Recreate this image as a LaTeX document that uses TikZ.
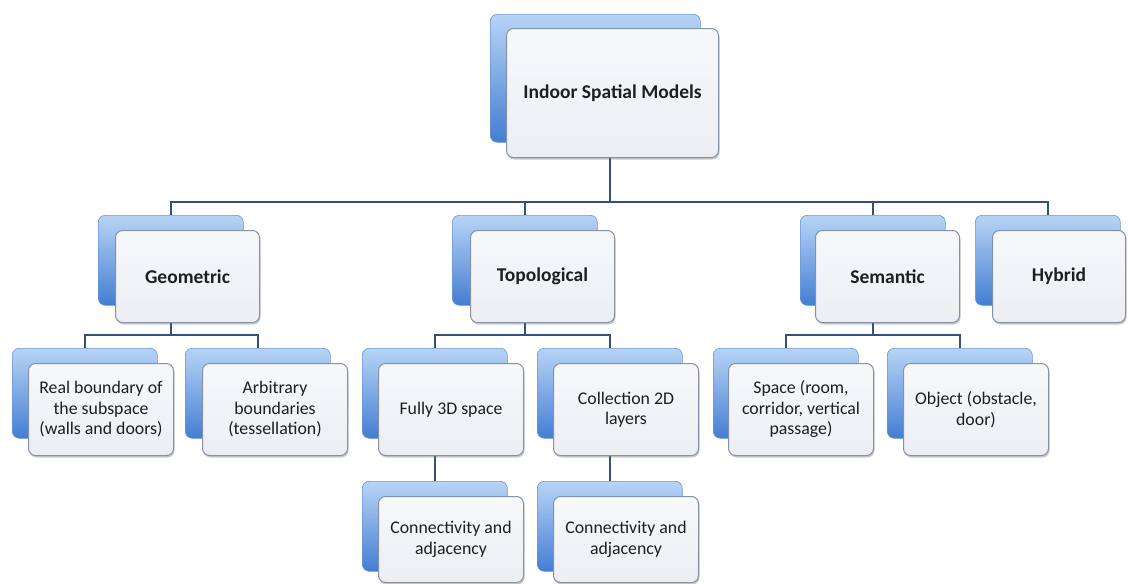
\documentclass[tikz,border=0pt]{standalone}
\usepackage{fontspec}
\setmainfont{Carlito}
\usetikzlibrary{shadows,calc}
\definecolor{bluetop}{HTML}{B8D4F6}
\definecolor{bluebot}{HTML}{437DD3}
\definecolor{blueedge}{HTML}{6A97D8}
\definecolor{frontfill}{HTML}{ECEEF3}
\definecolor{frontedge}{HTML}{8592A6}
\definecolor{conncol}{HTML}{34507C}
\definecolor{textcol}{HTML}{1E1E1E}
\begin{document}
\begin{tikzpicture}[x=1pt,y=-1pt,
  backbox/.style={rounded corners=7pt, top color=bluetop, bottom color=bluebot, draw=blueedge, line width=0.6pt, anchor=north west, inner sep=0pt},
  frontbox/.style={rounded corners=7pt, top color=white!60!frontfill, bottom color=frontfill, draw=frontedge, line width=1pt, anchor=north west, inner sep=0pt, align=center, text=textcol,
    drop shadow={shadow xshift=1pt, shadow yshift=-2pt, opacity=0.35, fill=black!60}},
  boldtxt/.style={font=\fontsize{19.5}{23}\selectfont\bfseries},
  normtxt/.style={font=\fontsize{17.8}{20.5}\selectfont},
  lvlA/.style={minimum width=145pt, minimum height=90pt},
  lvlAf/.style={minimum width=144pt, minimum height=92pt},
  lvlB/.style={minimum width=145pt, minimum height=90pt},
  lvlBf/.style={minimum width=145pt, minimum height=92pt},
  conn/.style={draw=conncol, line width=2pt}]
\fill[white] (0,0) rectangle (1128,584);
\useasboundingbox (0,0) rectangle (1128,584);

% ---------- back boxes ----------
\node[backbox, minimum width=210pt, minimum height=128pt] (topb) at (490,14) {};
\node[backbox, lvlA] (gb) at (98,215) {};
\node[backbox, lvlA] (tb) at (452,215) {};
\node[backbox, lvlA] (sb) at (800,215) {};
\node[backbox, lvlA] (hb) at (975,215) {};
\node[backbox, lvlB] (c1b) at (12,348) {};
\node[backbox, lvlB] (c2b) at (185,348) {};
\node[backbox, lvlB] (c3b) at (362,348) {};
\node[backbox, lvlB] (c4b) at (537,348) {};
\node[backbox, lvlB] (c7b) at (713,348) {};
\node[backbox, lvlB] (c8b) at (887,348) {};
\node[backbox, lvlB] (c5b) at (362,481) {};
\node[backbox, lvlB] (c6b) at (537,481) {};

% ---------- connectors ----------
\coordinate (bar1) at (0,202);
\coordinate (bar2) at (0,335);
\coordinate (topc) at (610,140);
\draw[conn] (topc) -- (topc |- bar1);
\draw[conn] (topc |- bar1) -| (gb.north);
\draw[conn] (topc |- bar1) -| (tb.north);
\draw[conn] (topc |- bar1) -| (sb.north);
\draw[conn] (topc |- bar1) -| (hb.north);
\draw[conn] (gb.center) -- (gb.center |- bar2);
\draw[conn] (gb.center |- bar2) -| (c1b.north);
\draw[conn] (gb.center |- bar2) -| (c2b.north);
\draw[conn] (tb.center) -- (tb.center |- bar2);
\draw[conn] (tb.center |- bar2) -| (c3b.north);
\draw[conn] (tb.center |- bar2) -| (c4b.north);
\draw[conn] (sb.center) -- (sb.center |- bar2);
\draw[conn] (sb.center |- bar2) -| (c7b.north);
\draw[conn] (sb.center |- bar2) -| (c8b.north);
\draw[conn] (c3b.center) -- (c5b.north);
\draw[conn] (c4b.center) -- (c6b.north);

% ---------- front boxes ----------
\node[frontbox, boldtxt, minimum width=212pt, minimum height=129pt] (topf) at (506,28) {Indoor Spatial Models};
\node[frontbox, boldtxt, lvlAf] (gf) at (115,230) {Geometric};
\node[frontbox, boldtxt, lvlAf] (tf) at (470,230) {Topological};
\node[frontbox, boldtxt, lvlAf] (sf) at (815,230) {Semantic};
\node[frontbox, boldtxt, minimum width=133pt, minimum height=92pt] (hf) at (992,230) {Hybrid};
\node[frontbox, normtxt, lvlBf] (c1f) at (28,363) {Real boundary of\\the subspace\\(walls and doors)};
\node[frontbox, normtxt, lvlBf] (c2f) at (202,363) {Arbitrary\\boundaries\\(tessellation)};
\node[frontbox, normtxt, lvlBf] (c3f) at (378,363) {Fully 3D space};
\node[frontbox, normtxt, lvlBf] (c4f) at (553,363) {Collection 2D\\layers};
\node[frontbox, normtxt, lvlBf] (c7f) at (728,363) {Space (room,\\corridor, vertical\\passage)};
\node[frontbox, normtxt, lvlBf] (c8f) at (903,363) {Object (obstacle,\\door)};
\node[frontbox, normtxt, minimum width=145pt, minimum height=86pt] (c5f) at (378,496) {Connectivity and\\adjacency};
\node[frontbox, normtxt, minimum width=145pt, minimum height=86pt] (c6f) at (553,496) {Connectivity and\\adjacency};
\end{tikzpicture}
\end{document}
